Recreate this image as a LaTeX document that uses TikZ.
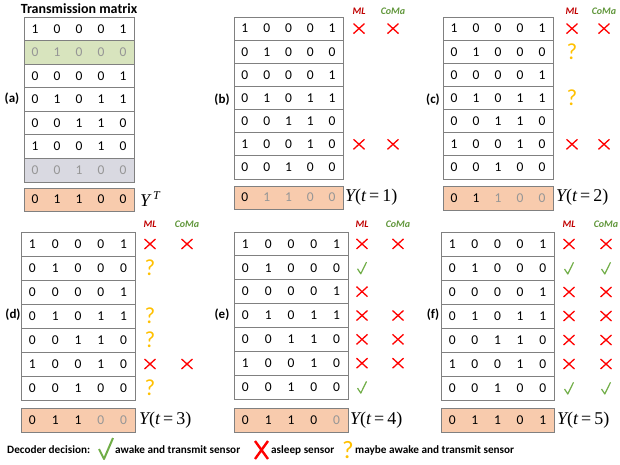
\documentclass[tikz,border=0pt]{standalone}
\usepackage{fontspec}
\setmainfont{Carlito}
\newfontfamily\tnr{Liberation Serif}
\definecolor{gridgray}{RGB}{128,128,128}
\definecolor{fadegray}{RGB}{150,150,150}
\definecolor{ypeach}{RGB}{248,203,173}
\definecolor{rowgreen}{RGB}{216,228,190}
\definecolor{rowgray}{RGB}{217,217,225}
\definecolor{mlred}{RGB}{192,0,0}
\definecolor{comagreen}{RGB}{96,150,58}
\definecolor{xred}{RGB}{255,0,0}
\definecolor{vgreen}{RGB}{112,173,71}
\definecolor{qorange}{RGB}{255,192,0}
\tikzset{
  gridline/.style={draw=gridgray, line width=0.9pt},
  ybox/.style={draw=gridgray, line width=0.9pt, fill=ypeach},
  digit/.style={font=\fontsize{13.5}{14}\selectfont, inner sep=0pt, text height=8.6pt, text depth=0pt},
  plabel/.style={font=\fontsize{13}{14}\selectfont\bfseries, inner sep=0pt},
  mlh/.style={font=\fontsize{10}{11}\selectfont\bfseries\itshape, text=mlred, inner sep=0pt},
  comah/.style={font=\fontsize{10}{11}\selectfont\bfseries\itshape, text=comagreen, inner sep=0pt},
  ylab/.style={font=\tnr\fontsize{18}{20}\selectfont, anchor=west, inner sep=0pt},
  legtext/.style={font=\fontsize{11.2}{13}\selectfont\bfseries, anchor=west, inner sep=0pt},
  crossX/.pic={\draw[xred, line width=1.3pt] (-5.5,-5) -- (5.5,5) (-5.5,5) -- (5.5,-5);},
  checkV/.pic={\draw[vgreen, line width=1.2pt, line join=round] (-4.5,1) -- (-1.2,6) -- (4.5,-5.7);},
  qmark/.pic={\node[font=\fontsize{23}{24}\selectfont, text=qorange, inner sep=0pt] {?};},
}
\newcommand\tmat[6]{%
  \pgfmathsetmacro\rh{(#5-#4)/7}%
  \pgfmathsetmacro\cw{(#3-#2)/5}%
  \foreach \k in {1,...,6}
    \draw[gridline] (#2,{#4+\k*\rh}) -- (#3,{#4+\k*\rh});
  \draw[gridline] (#2,#4) rectangle (#3,#5);
  \foreach \rowvals [count=\r] in {{1,0,0,0,1},{0,1,0,0,0},{0,0,0,0,1},{0,1,0,1,1},{0,0,1,1,0},{1,0,0,1,0},{0,0,1,0,0}}{%
    \pgfmathtruncatemacro\fade{#6}%
    \def\dcol{black}\ifnum\fade=1 \def\dcol{fadegray}\fi
    \foreach \v [count=\c] in \rowvals {
      \node[digit, text=\dcol] (#1-\r-\c) at ({#2+(\c-0.5)*\cw},{#4+(\r-0.5)*\rh}) {\v};
    }
  }
}
\newcommand\yvec[7]{%
  \pgfmathsetmacro\cw{(#3-#2)/5}%
  \draw[ybox] (#2,#4) rectangle (#3,#5);
  \foreach \v [count=\c] in {#7} {
    \def\dcol{black}\ifnum\c>#6 \def\dcol{fadegray}\fi
    \node[digit, text=\dcol] (#1-y-\c) at ({#2+(\c-0.5)*\cw},{(#4+#5)/2}) {\v};
  }
}
\newcommand\mk[4]{\pic at (#3,0 |- #1-#2-1) {#4};}
\begin{document}
\begin{tikzpicture}[x=1pt, y=-1pt]
\path[use as bounding box] (0,0) rectangle (620,464);

% ---------- (a)
\node[font=\fontsize{14}{15}\selectfont\bfseries, inner sep=0pt] (title) at (79,9) {Transmission matrix};
\fill[rowgreen] (24,{17+23.571}) rectangle (134,{17+2*23.571});
\fill[rowgray] (24,{17+6*23.571}) rectangle (134,182);
\tmat{a}{24}{134}{17}{182}{\r==2 || \r==7}
\yvec{a}{24}{134}{188}{211}{5}{0,1,1,0,0}
\node[plabel] (a-lab) at (12,99) {(a)};
\node[ylab] (a-ylab) at (140,199.5) {\itshape Y\,\raisebox{7pt}{\fontsize{12}{12}\selectfont T}};

% ---------- (b)
\tmat{b}{234}{343}{17}{179}{0}
\yvec{b}{234}{343}{186}{209}{1}{0,1,1,0,0}
\node[plabel] (b-lab) at (222,100) {(b)};
\node[ylab] (b-ylab) at (345,197.5) {{\itshape Y}({\itshape t}\,=\,1)};
\node[mlh] (b-ml) at (359,11) {ML};
\node[comah] (b-coma) at (393,11) {CoMa};
\mk{b}{1}{359}{crossX} \mk{b}{1}{393}{crossX}
\mk{b}{6}{359}{crossX} \mk{b}{6}{393}{crossX}

% ---------- (c)
\tmat{c}{443}{553}{17}{179}{0}
\yvec{c}{443}{553}{186}{210}{2}{0,1,1,0,0}
\node[plabel] (c-lab) at (433,100) {(c)};
\node[ylab] (c-ylab) at (556,197.5) {{\itshape Y}({\itshape t}\,=\,2)};
\node[mlh] (c-ml) at (572,11) {ML};
\node[comah] (c-coma) at (604,11) {CoMa};
\mk{c}{1}{572}{crossX} \mk{c}{1}{604}{crossX}
\mk{c}{2}{572}{qmark}
\mk{c}{4}{572}{qmark}
\mk{c}{6}{572}{crossX} \mk{c}{6}{604}{crossX}

% ---------- (d)
\tmat{d}{21}{135}{232}{400}{0}
\yvec{d}{21}{135}{408}{432}{3}{0,1,1,0,0}
\node[plabel] (d-lab) at (13,315) {(d)};
\node[ylab] (d-ylab) at (139,420) {{\itshape Y}({\itshape t}\,=\,3)};
\node[mlh] (d-ml) at (150,224) {ML};
\node[comah] (d-coma) at (187,224) {CoMa};
\mk{d}{1}{150}{crossX} \mk{d}{1}{187}{crossX}
\mk{d}{2}{150}{qmark}
\mk{d}{4}{150}{qmark}
\mk{d}{5}{150}{qmark}
\mk{d}{6}{150}{crossX} \mk{d}{6}{187}{crossX}
\mk{d}{7}{150}{qmark}

% ---------- (e)
\tmat{e}{234}{348}{232}{399}{0}
\yvec{e}{234}{348}{408}{432}{4}{0,1,1,0,0}
\node[plabel] (e-lab) at (222,315) {(e)};
\node[ylab] (e-ylab) at (350,420) {{\itshape Y}({\itshape t}\,=\,4)};
\node[mlh] (e-ml) at (362,224) {ML};
\node[comah] (e-coma) at (398,224) {CoMa};
\mk{e}{1}{362}{crossX} \mk{e}{1}{398}{crossX}
\mk{e}{2}{362}{checkV}
\mk{e}{3}{362}{crossX}
\mk{e}{4}{362}{crossX} \mk{e}{4}{398}{crossX}
\mk{e}{5}{362}{crossX} \mk{e}{5}{398}{crossX}
\mk{e}{6}{362}{crossX} \mk{e}{6}{398}{crossX}
\mk{e}{7}{362}{checkV}

% ---------- (f)
\tmat{f}{441}{554}{232}{400}{0}
\yvec{f}{441}{554}{408}{432}{5}{0,1,1,0,1}
\node[plabel] (f-lab) at (433,315) {(f)};
\node[ylab] (f-ylab) at (557,420) {{\itshape Y}({\itshape t}\,=\,5)};
\node[mlh] (f-ml) at (569,224) {ML};
\node[comah] (f-coma) at (606,224) {CoMa};
\foreach \r in {1,3,4,5,6} {\mk{f}{\r}{569}{crossX} \mk{f}{\r}{606}{crossX}}
\foreach \r in {2,7} {\mk{f}{\r}{569}{checkV} \mk{f}{\r}{606}{checkV}}

% ---------- legend
\node[legtext] (leg) at (7,450) {Decoder decision:};
\draw[vgreen, line width=2pt, line join=round] (99,449) -- (104,459) -- (113,438);
\node[legtext] (leg-v) at (115,450) {awake and transmit sensor};
\draw[xred, line width=2.4pt] (255,441) -- (268,459) (255,459) -- (268,441);
\node[legtext] (leg-x) at (271,450) {asleep sensor};
\node[font=\fontsize{25}{26}\selectfont, text=qorange, inner sep=0pt] (leg-q) at (348,450) {?};
\node[legtext] (leg-qt) at (355,450) {maybe awake and transmit sensor};
\end{tikzpicture}
\end{document}
